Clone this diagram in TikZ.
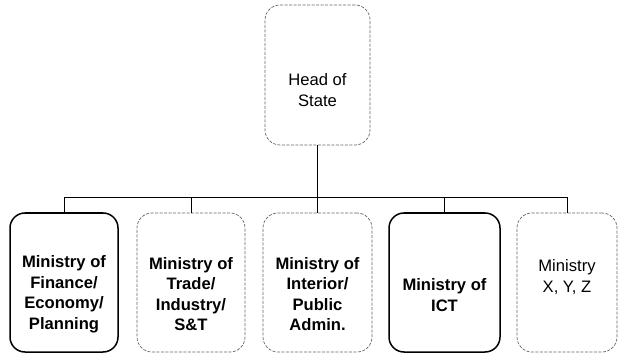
\documentclass[tikz,border=0pt]{standalone}
\usepackage{fontspec}
\setmainfont{Liberation Sans}
\begin{document}
\begin{tikzpicture}[x=1pt,y=-1pt,
  solidbox/.style={draw=black,line width=1.5pt,rounded corners=15pt,inner sep=0pt},
  faintbox/.style={draw=black!60,line width=0.7pt,dash pattern=on 3pt off 1.5pt,rounded corners=15pt,inner sep=0pt},
  lbl/.style={align=center,font=\fontsize{16.6}{20.5}\selectfont,inner sep=0pt},
  blbl/.style={lbl,font=\fontsize{16.6}{20.5}\selectfont\bfseries},
  link/.style={draw=black,line width=1pt}]
\useasboundingbox (0,0) rectangle (620,355);
\fill[white] (0,0) rectangle (620,355);

% top of the hierarchy
\node[faintbox,minimum width=105pt,minimum height=140pt] (head) at (317.5,75) {};
\node[lbl] (headtxt) at (317.5,90) {Head of\\State};

% ministries
\node[solidbox,minimum width=108pt,minimum height=139pt] (m1) at (64,282.5) {};
\node[faintbox,minimum width=108pt,minimum height=139pt] (m2) at (191,282.5) {};
\node[faintbox,minimum width=109pt,minimum height=139pt] (m3) at (317.5,282.5) {};
\node[solidbox,minimum width=111pt,minimum height=139pt] (m4) at (444.5,282.5) {};
\node[faintbox,minimum width=100pt,minimum height=139pt] (m5) at (567,282.5) {};

\node[blbl] (t1) at (64,294) {Ministry of\\Finance/\\Economy/\\Planning};
\node[blbl] (t2) at (191,294) {Ministry of\\Trade/\\Industry/\\S\&T};
\node[blbl] (t3) at (317.5,294) {Ministry of\\Interior/\\Public\\Admin.};
\node[blbl] (t4) at (444.5,295) {Ministry of\\ICT};
\node[lbl] (t5) at (567,277) {Ministry\\X, Y, Z};

% connectors
\coordinate (bar) at (0,198);
\draw[link] (head.south) -- (m3.north);
\draw[link] (m1.north) -- (m1.north |- bar) -- (m5.north |- bar) -- (m5.north);
\draw[link] (m2.north |- bar) -- (m2.north);
\draw[link] (m4.north |- bar) -- (m4.north);
\end{tikzpicture}
\end{document}
